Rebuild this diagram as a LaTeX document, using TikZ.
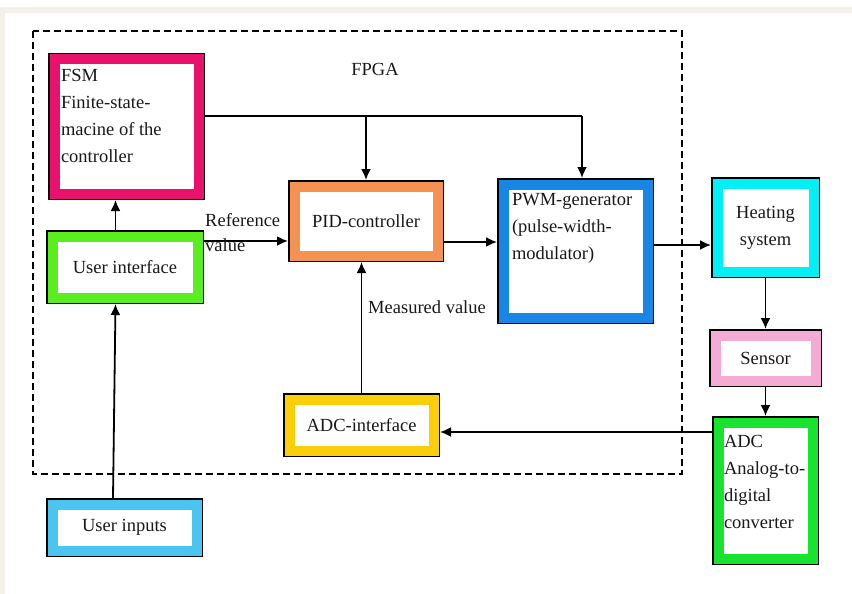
\documentclass[tikz,border=0pt]{standalone}
\usepackage{fontspec}
\setmainfont{Liberation Serif}
\usetikzlibrary{arrows.meta}

\definecolor{fsmred}{RGB}{232,18,108}
\definecolor{uigreen}{RGB}{90,238,30}
\definecolor{pidorange}{RGB}{244,146,82}
\definecolor{pwmblue}{RGB}{24,134,228}
\definecolor{heatcyan}{RGB}{0,240,245}
\definecolor{sensorpink}{RGB}{245,172,212}
\definecolor{adcgreen}{RGB}{24,228,48}
\definecolor{adcgold}{RGB}{250,206,10}
\definecolor{inputblue}{RGB}{76,196,240}
\definecolor{pagecream}{RGB}{243,241,233}

\tikzset{
  block/.style={draw=#1, fill=white, line width=10pt,
    preaction={draw=black, line width=13pt},
    outer sep=6.5pt, inner sep=0pt, text=black!90,
    font=\fontsize{18.5}{27}\selectfont},
  flow/.style={-{Latex[length=11pt,width=10pt]}, line width=1.8pt},
  wire/.style={line width=1.8pt},
  lbl/.style={inner sep=0pt, text=black!90, font=\fontsize{18.5}{25}\selectfont},
}

\begin{document}
\begin{tikzpicture}[x=1pt, y=-1pt]

    \useasboundingbox (0,0) rectangle (852,594);
    \fill[pagecream] (0,7) rectangle (852,594);
    \fill[white] (5,13) rectangle (852,594);

    % FPGA
    \draw[line width=1.4pt, dash pattern=on 7pt off 4pt] (33,31) rectangle (682,474);
    \node[lbl] (fpga) at (375,69) {FPGA};

    % blocks
    \node[block=fsmred, minimum width=144pt, minimum height=134pt] (fsm) at (126.5,126.5)
        {\parbox[c][115pt][t]{131pt}{\raggedright FSM\\Finite-state-\\macine of the\\controller}};
    \node[block=uigreen, minimum width=145pt, minimum height=61pt] (ui) at (125,267) {User interface};
    \node[block=pidorange, minimum width=143pt, minimum height=69pt] (pid) at (366,221) {PID-controller};
    \node[block=pwmblue, minimum width=144pt, minimum height=133pt] (pwm) at (575.5,251)
        {\parbox[c][116pt][t]{127pt}{\raggedright PWM-generator\\(pulse-width-\\modulator)}};
    \node[block=adcgold, minimum width=144pt, minimum height=51pt] (adcif) at (361.5,425) {ADC-interface};
    \node[block=inputblue, minimum width=144pt, minimum height=46pt] (inputs) at (124.5,527.5) {User inputs};

    \node[block=heatcyan, minimum width=96pt, minimum height=88pt, align=center] (heat) at (765.5,227.5) {Heating\\system};
    \node[block=sensorpink, minimum width=100pt, minimum height=45pt] (sensor) at (765.5,358) {Sensor};
    \node[block=adcgreen, minimum width=94pt, minimum height=136pt] (adc) at (765.5,490.5)
        {\parbox[c][111pt][t]{83pt}{\raggedright ADC\\Analog-to-\\digital\\converter}};

    % connectors
    \coordinate (bus) at (582,116);
    \coordinate (refy) at (0,241);
    \coordinate (pwmy) at (0,242);
    \coordinate (heaty) at (0,245);
    \coordinate (adcy) at (0,432);

    \draw[wire] (fsm.east |- bus) -- (bus);
    \draw[flow] (bus) -- (bus |- pwm.north);
    \draw[flow] (pid.north |- bus) -- (pid.north);

    \draw[flow] ([xshift=-9.5pt]ui.north) -- ([xshift=-9.5pt]ui.north |- fsm.south);
    \draw[flow] ([xshift=-11.5pt]inputs.north) -- ([xshift=-9.5pt]ui.south);

    \draw[flow] (ui.east |- refy) -- (pid.west |- refy);
    \draw[flow] (pid.east |- pwmy) -- (pwm.west |- pwmy);
    \draw[flow] (pwm.east |- heaty) -- (heat.west |- heaty);

    \draw[flow] (heat.south) -- (sensor.north);
    \draw[flow] (sensor.south) -- (adc.north);
    \draw[flow] (adc.west |- adcy) -- (adcif.east |- adcy);
    \draw[flow] (adcif.north) -- (adcif.north |- pid.south);

    \node[lbl, anchor=north west, align=left] (reflbl) at (205,213) {Reference\\value};
    \node[lbl, anchor=base west] (measlbl) at (368,313) {Measured value};

\end{tikzpicture}
\end{document}
